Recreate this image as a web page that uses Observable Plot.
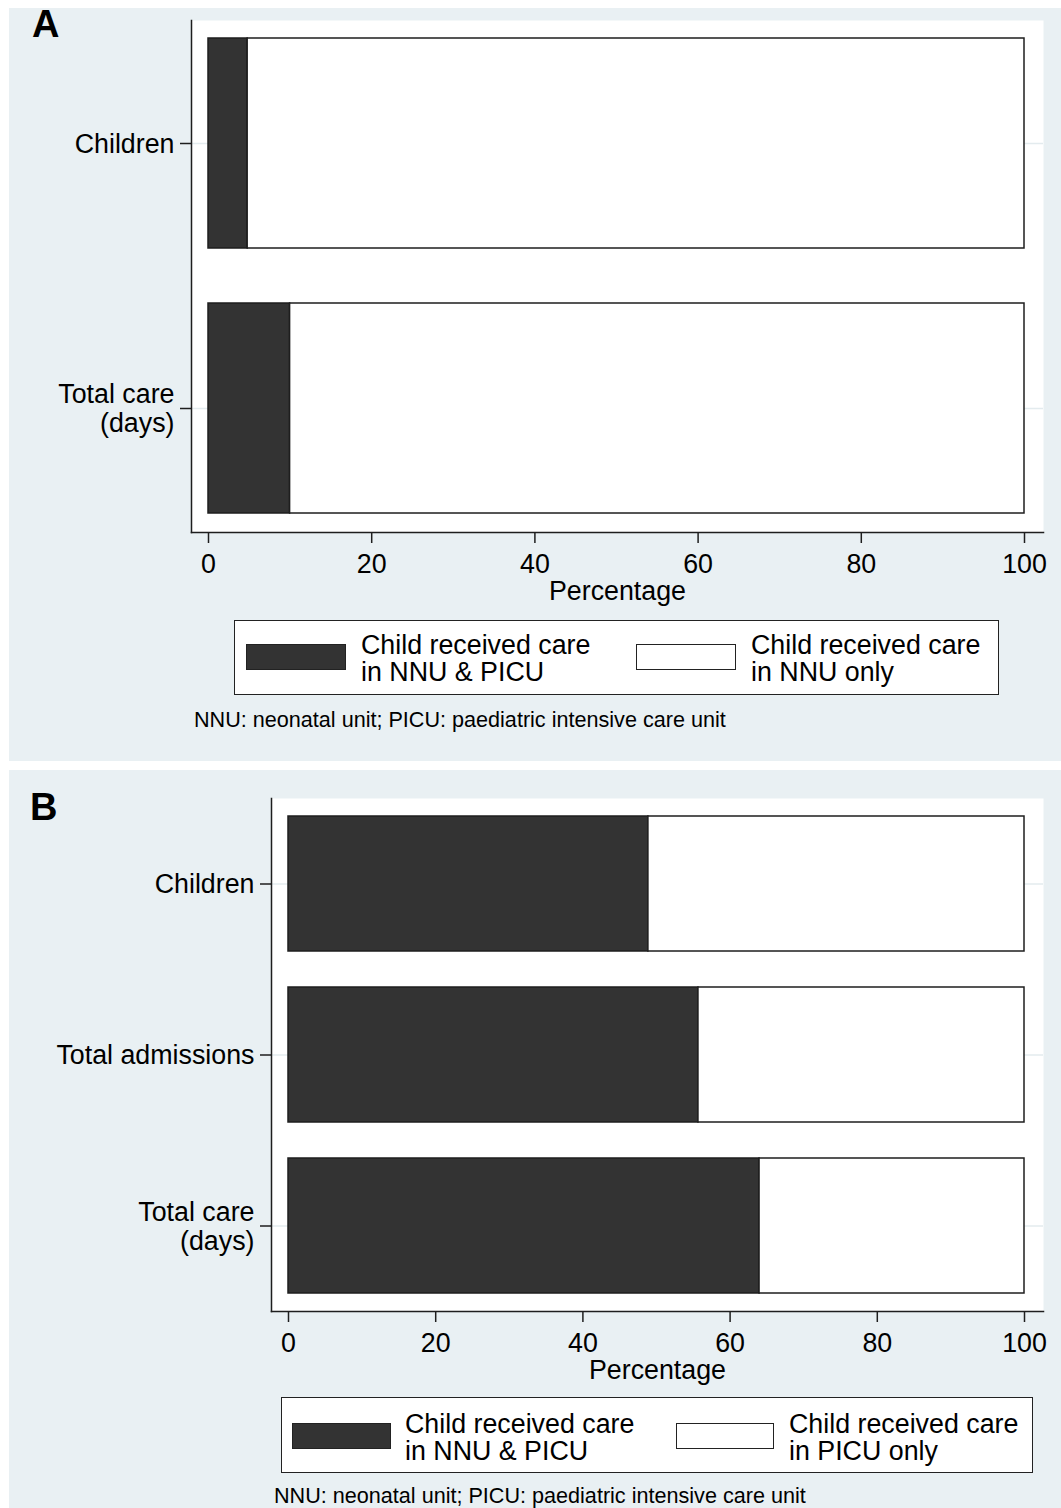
<!DOCTYPE html>
<html>
<head>
<meta charset="utf-8">
<script src="https://cdn.jsdelivr.net/npm/d3@7"></script>
<script src="https://cdn.jsdelivr.net/npm/@observablehq/plot@0.6"></script>
<style>
  body { margin: 0; background: #ffffff; }
  #root { position: relative; width: 1061px; height: 1508px; overflow: hidden;
          font-family: "Liberation Sans", Arial, sans-serif; color: #000; }
  .panel { position: absolute; background: #e9f0f3; }
  .abs { position: absolute; }
  .panelLabel { position: absolute; font-weight: bold; font-size: 38px; line-height: 38px; }
  .legendBox { position: absolute; box-sizing: border-box; background: #fff; border: 1.5px solid #222; }
  .swatch { position: absolute; box-sizing: border-box; border: 1.5px solid #222; }
  .legendText { position: absolute; font-size: 26.8px; line-height: 26.5px; white-space: pre; }
  .note { position: absolute; font-size: 21.6px; line-height: 21px; white-space: pre; }
</style>
</head>
<body>
<div id="root">
  <div class="panel" style="left:9px;top:8px;width:1052px;height:753px"></div>
  <div class="panel" style="left:9px;top:770px;width:1052px;height:738px"></div>
  <div class="panelLabel" style="left:32px;top:5px">A</div>
  <div class="panelLabel" style="left:30px;top:788px">B</div>
  <div id="chartA" class="abs" style="left:0;top:0"></div>
  <div id="chartB" class="abs" style="left:0;top:770px"></div>
</div>
<script>
// ---------- data ----------
const categoriesA = ["Children", "Total care\n(days)"];
const nnuPicuA = [4.8, 10.0];
const nnuOnlyA = [95.2, 90.0];
const groupsA = ["Child received care\nin NNU & PICU", "Child received care\nin NNU only"];

const categoriesB = ["Children", "Total admissions", "Total care\n(days)"];
const nnuPicuB = [48.9, 55.7, 64.0];
const picuOnlyB = [51.1, 44.3, 36.0];
const groupsB = ["Child received care\nin NNU & PICU", "Child received care\nin PICU only"];

const xTicks = [0, 20, 40, 60, 80, 100];
const xLabel = "Percentage";
const noteText = "NNU: neonatal unit; PICU: paediatric intensive care unit";
const colors = ["#333333", "#ffffff"];

function rowsFor(categories, groups, first, second) {
  const rows = [];
  categories.forEach((c, i) => {
    rows.push({cat: c, group: groups[0], value: first[i]});
    rows.push({cat: c, group: groups[1], value: second[i]});
  });
  return rows;
}

function panel({categories, groups, rows, marginLeft, marginTop, plotBottom, height, paddingInner, paddingOuter}) {
  return Plot.plot({
    width: 1061,
    height,
    marginLeft,
    marginRight: 18,
    marginTop,
    marginBottom: height - plotBottom,
    style: {background: "transparent", fontFamily: "'Liberation Sans', Arial, sans-serif", fontSize: "26.8px", color: "#000", overflow: "visible"},
    x: {domain: [0, 100], insetLeft: 17, insetRight: 19},
    y: {domain: categories, paddingInner, paddingOuter},
    color: {domain: groups, range: colors},
    marks: [
      Plot.frame({fill: "#ffffff", stroke: null}),
      Plot.gridY({stroke: "#e3ebee", strokeOpacity: 1, strokeWidth: 1.5}),
      Plot.barX(rows, Plot.stackX({x: "value", y: "cat", fill: "group", order: groups, stroke: "#1e1e1e", strokeWidth: 1.5})),
      Plot.frame({anchor: "left", stroke: "#1e1e1e", strokeWidth: 1.5}),
      Plot.frame({anchor: "bottom", stroke: "#1e1e1e", strokeWidth: 1.5}),
      Plot.axisX({ticks: xTicks, tickSize: 11, tickPadding: 10, strokeWidth: 1.5, stroke: "#1e1e1e",
                  label: xLabel, labelAnchor: "center", labelArrow: "none", labelOffset: 67}),
      Plot.axisY({tickSize: 11, tickPadding: 6, strokeWidth: 1.5, stroke: "#1e1e1e", lineHeight: 1.07, label: null})
    ]
  });
}

document.getElementById("chartA").append(panel({
  categories: categoriesA, groups: groupsA,
  rows: rowsFor(categoriesA, groupsA, nnuPicuA, nnuOnlyA),
  marginLeft: 191, marginTop: 20, plotBottom: 532, height: 610,
  paddingInner: 0.207, paddingOuter: 0.066
}));

document.getElementById("chartB").append(panel({
  categories: categoriesB, groups: groupsB,
  rows: rowsFor(categoriesB, groupsB, nnuPicuB, picuOnlyB),
  marginLeft: 271, marginTop: 28, plotBottom: 541, height: 621,
  paddingInner: 0.21, paddingOuter: 0.105
}));

// ---------- legends & notes ----------
const root = document.getElementById("root");
function addEl(cls, style, text) {
  const d = document.createElement("div");
  d.className = cls;
  Object.assign(d.style, style);
  if (text != null) d.textContent = text;
  root.append(d);
  return d;
}
function legend(groups, box, swatches, textLefts, textTop, swTop, swH) {
  addEl("legendBox", {left: box[0] + "px", top: box[1] + "px", width: (box[2] - box[0]) + "px", height: (box[3] - box[1]) + "px"});
  groups.forEach((g, i) => {
    addEl("swatch", {left: swatches[i][0] + "px", top: swTop + "px", width: (swatches[i][1] - swatches[i][0]) + "px", height: swH + "px", background: colors[i]});
    addEl("legendText", {left: textLefts[i] + "px", top: textTop + "px"}, g);
  });
}
legend(groupsA, [234, 620, 999, 695], [[246, 346], [636, 736]], [361, 751], 632, 644, 26);
legend(groupsB, [281, 1397, 1033, 1473], [[292, 391], [676, 774]], [405, 789], 1411, 1423, 26);
addEl("note", {left: "194px", top: "709px"}, noteText);
addEl("note", {left: "274px", top: "1485px"}, noteText);
</script>
</body>
</html>
